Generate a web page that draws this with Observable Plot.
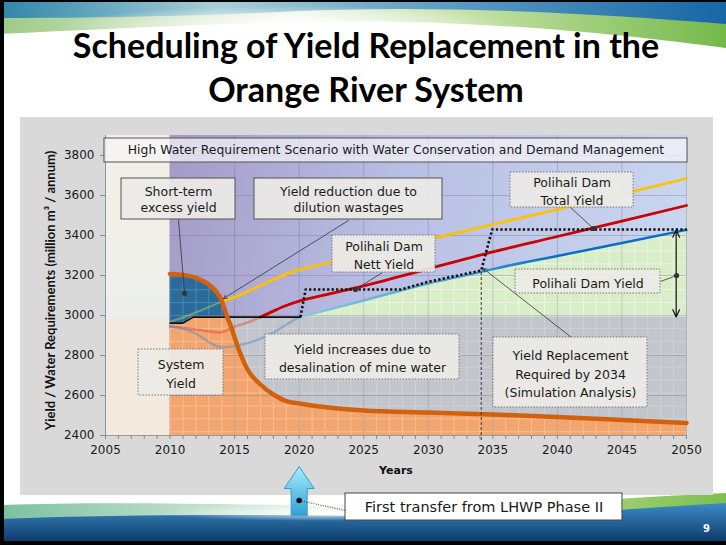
<!DOCTYPE html>
<html>
<head>
<meta charset="utf-8">
<script src="https://cdn.jsdelivr.net/npm/d3@7"></script>
<script src="https://cdn.jsdelivr.net/npm/@observablehq/plot@0.6"></script>
<style>
html,body{margin:0;padding:0;background:#fff;}
#slide{position:relative;width:726px;height:545px;overflow:hidden;background:#fff;}
#title{position:absolute;left:3px;top:23px;width:726px;text-align:center;font-family:Lato,"Open Sans",sans-serif;font-weight:700;font-size:34px;line-height:44px;color:#000;}
#panel{position:absolute;left:20px;top:117px;width:693px;height:378px;background:#d9d9d9;}
#chart{position:absolute;left:20px;top:117px;}
#chart svg{overflow:visible;}
#pg{position:absolute;left:703px;top:523px;color:#fff;font:bold 10px "DejaVu Sans",sans-serif;}
.bl{position:absolute;background:#000;}
</style>
</head>
<body>
<div id="slide">
  <svg id="topdeco" width="726" height="60" style="position:absolute;left:0;top:0">
    <defs>
      <linearGradient id="tg1" x1="0" x2="1" y1="0" y2="0">
        <stop offset="0" stop-color="#2f86aa"/><stop offset="0.3" stop-color="#a9cfd6"/>
        <stop offset="0.55" stop-color="#6aa5c8"/><stop offset="1" stop-color="#1766a6"/>
      </linearGradient>
      <linearGradient id="tg2" x1="0" x2="1" y1="0" y2="0">
        <stop offset="0" stop-color="#9dcb86"/><stop offset="0.4" stop-color="#f2f7ee"/>
        <stop offset="0.7" stop-color="#b9db97"/><stop offset="1" stop-color="#74b94a"/>
      </linearGradient>
      <radialGradient id="tw" cx="0.5" cy="0.5" r="0.5">
        <stop offset="0" stop-color="#fff" stop-opacity="0.95"/><stop offset="1" stop-color="#fff" stop-opacity="0"/>
      </radialGradient>
    </defs>
    <path d="M0,0H726V48C620,34 470,18 300,22C180,25 80,30 0,34Z" fill="url(#tg2)"/>
    <path d="M0,0H726V24C600,14 440,4 280,12C170,17 70,18 0,18Z" fill="url(#tg1)"/>
    <ellipse cx="290" cy="26" rx="230" ry="20" fill="url(#tw)"/>
  </svg>
  <div id="title">Scheduling of Yield Replacement in the<br>Orange River System</div>
  <svg id="botdeco" width="726" height="60" style="position:absolute;left:0;top:485px">
    <defs>
      <linearGradient id="bg1" x1="0" x2="1" y1="0" y2="0">
        <stop offset="0" stop-color="#7cc0a0"/><stop offset="0.45" stop-color="#eef6ee"/>
        <stop offset="0.8" stop-color="#a6d27e"/><stop offset="1" stop-color="#7cc04e"/>
      </linearGradient>
      <linearGradient id="bg2" x1="0" x2="0" y1="0" y2="1">
        <stop offset="0" stop-color="#3b8cc6"/><stop offset="1" stop-color="#0a3462"/>
      </linearGradient>
      <radialGradient id="bw" cx="0.5" cy="0.5" r="0.5">
        <stop offset="0" stop-color="#fff" stop-opacity="0.9"/><stop offset="1" stop-color="#fff" stop-opacity="0"/>
      </radialGradient>
    </defs>
    <path d="M0,60V20C120,16 260,20 400,22C520,22 630,12 726,8V60Z" fill="url(#bg1)"/>
    <path d="M0,60V34C150,28 300,30 430,32C550,32 650,22 726,18V60Z" fill="url(#bg2)"/>
    <ellipse cx="330" cy="28" rx="170" ry="8" fill="url(#bw)"/>
  </svg>
  <div id="panel"></div>
  <div id="chart"></div>
  <div id="pg">9</div>
  <div class="bl" style="left:0;top:0;width:4px;height:545px"></div>
  <div class="bl" style="left:0;top:0;width:726px;height:2px"></div>
  <div class="bl" style="left:0;top:541px;width:726px;height:4px"></div>
</div>
<script>
// ---------------- data ----------------
const xTickYears = [2005, 2010, 2015, 2020, 2025, 2030, 2035, 2040, 2045, 2050];
const yTickValues = [2400, 2600, 2800, 3000, 3200, 3400, 3600, 3800];

// System yield (thick orange line)
const systemYears = [2010, 2011, 2012, 2013, 2013.5, 2014, 2014.4, 2014.7, 2015, 2015.5, 2016, 2017, 2018, 2019, 2020, 2021, 2023, 2025, 2030, 2035, 2040, 2045, 2050];
const systemYield = [3208, 3203, 3188, 3155, 3125, 3075, 2995, 2950, 2890, 2800, 2730, 2655, 2605, 2572, 2560, 2550, 2535, 2525, 2515, 2505, 2493, 2478, 2462];

// Base line (solid black) and yield-replacement schedule (dotted black)
const baseYears = [2010, 2011, 2011.8, 2020.1];
const baseValues = [2962, 2962, 2992, 2992];
const scheduleYears = [2020.1, 2020.5, 2027.9, 2029.9, 2034.1, 2034.95, 2050];
const scheduleValues = [2992, 3130, 3130, 3167, 3225, 3430, 3430];

// Polihali Dam Nett Yield (red)
const redYears = [2010, 2012, 2013.9, 2014.8, 2016, 2017, 2018, 2019, 2020, 2021, 2022, 2025, 2030, 2035, 2040, 2045, 2050];
const redValues = [2945, 2930, 2915, 2940, 2965, 2992, 3022, 3050, 3072, 3088, 3103, 3148, 3233, 3318, 3395, 3472, 3550];

// Polihali Dam Total Yield (yellow)
const yellowYears = [2010, 2011, 2012, 2013, 2014.2, 2015, 2016, 2017, 2018, 2019, 2020, 2021, 2022, 2025, 2030, 2035, 2040, 2045, 2050];
const yellowValues = [2968, 2990, 3015, 3042, 3075, 3092, 3120, 3150, 3180, 3208, 3228, 3245, 3260, 3305, 3380, 3455, 3530, 3607, 3685];

// Polihali Dam Yield (blue, top of green area)
const blueYears = [2010, 2011, 2012, 2013, 2014, 2015, 2016, 2017, 2018, 2019, 2020, 2025, 2030, 2034, 2035, 2040, 2045, 2050];
const blueValues = [2945, 2935, 2910, 2867, 2842, 2848, 2862, 2883, 2915, 2955, 2992, 3075, 3160, 3217, 3232, 3298, 3362, 3428];

const historyEnd = 2010;        // shaded history 2005-2010
const crossYear = 2014.4;       // system yield meets base line
const polihaliStart = 2020;     // first transfer LHWP Phase II
const replacementYear = 2034.1; // yield replacement required
const baseLevel = 2992;

const chartTitle = "High Water Requirement Scenario with Water Conservation and Demand Management";
const yLabel = "Yield / Water Requirements (million m³ / annum)";
const xLabel = "Years";

// annotation boxes (data coordinates)
const solidNotes = [
  {text: "Short-term\nexcess yield", x1: 2006.24, x2: 2015.07, y1: 3480, y2: 3685},
  {text: "Yield reduction due to\ndilution wastages", x1: 2016.54, x2: 2031.10, y1: 3480, y2: 3685}
];
const dottedNotes = [
  {text: "Polihali Dam\nNett Yield", x1: 2022.58, x2: 2030.56, y1: 3215, y2: 3400},
  {text: "Polihali Dam\nTotal Yield", x1: 2036.37, x2: 2045.90, y1: 3540, y2: 3715},
  {text: "Polihali Dam Yield", x1: 2036.76, x2: 2047.99, y1: 3110, y2: 3230},
  {text: "System\nYield", x1: 2007.56, x2: 2014.14, y1: 2600, y2: 2830},
  {text: "Yield increases due to\ndesalination of mine water", x1: 2017.39, x2: 2032.42, y1: 2680, y2: 2905},
  {text: "Yield Replacement\nRequired by 2034\n(Simulation Analysis)", x1: 2035.05, x2: 2046.98, y1: 2540, y2: 2890}
];
const transferNote = {text: "First transfer from LHWP Phase II", x1: 2023.59, x2: 2045.04, y1: 1975, y2: 2110};
const dotLeaders = [
  {x1: 2010.65, y1: 3480, x2: 2011.12, y2: 3111},
  {x1: 2026.45, y1: 3215, x2: 2024.36, y2: 3130},
  {x1: 2041.02, y1: 3540, x2: 2042.80, y2: 3435},
  {x1: 2047.99, y1: 3170, x2: 2049.23, y2: 3200}
];
const arrowLeaders = [
  {x1: 2023.82, y1: 3475, x2: 2014.14, y2: 3085},
  {x1: 2041.10, y1: 2890, x2: 2034.25, y2: 3235}
];

// ---------------- derived tables ----------------
const rows = (xs, vs) => xs.map((x, i) => ({year: x, v: vs[i]}));
const sys = rows(systemYears, systemYield);
const base = rows(baseYears, baseValues);
const schedule = rows(scheduleYears, scheduleValues);
const red = rows(redYears, redValues);
const yellow = rows(yellowYears, yellowValues);
const blue = rows(blueYears, blueValues);
const orangeFill = base.filter(d => d.year < crossYear).concat(sys.filter(d => d.year >= crossYear));
const excess = sys.filter(d => d.year <= crossYear);
const curve = "monotone-x";
const txt = {fontFamily: "DejaVu Sans", fill: "#1a1a1a"};

const chart = Plot.plot({
  width: 693, height: 408,
  marginLeft: 85, marginRight: 27, marginTop: 18, marginBottom: 90,
  x: {domain: [2005, 2050]},
  y: {domain: [2400, 3900]},
  style: {background: "transparent", fontFamily: "DejaVu Sans", fontSize: "12px", overflow: "visible"},
  marks: [
    Plot.rect([0], {x1: 2005, x2: historyEnd, y1: 2400, y2: 3900, fill: "url(#bgBeige)"}),
    Plot.rect([0], {x1: historyEnd, x2: 2050, y1: 2400, y2: 3900, fill: "url(#bgPurple)"}),
    Plot.areaY(sys.filter(d => d.year >= crossYear), {x: "year", y1: "v", y2: baseLevel, fill: "url(#pGrey)", curve}),
    Plot.areaY(blue.filter(d => d.year >= polihaliStart), {x: "year", y1: baseLevel, y2: "v", fill: "url(#pGreen)", curve}),
    Plot.areaY(excess, {x: "year", y1: 2930, y2: "v", fill: "url(#pBlue)", curve}),
    Plot.areaY(orangeFill, {x: "year", y1: 2400, y2: "v", fill: "url(#pOrange)", curve}),
    // major grid
    Plot.ruleX(xTickYears.filter(d => d > historyEnd), {y1: 2400, y2: 3900, stroke: "#6c6c90", strokeOpacity: 0.35}),
    Plot.ruleY(yTickValues.filter(d => d > 2400), {x1: historyEnd, x2: 2050, stroke: "#6c6c90", strokeOpacity: 0.35}),
    // faint early parts of lines
    Plot.line(red.filter(d => d.year <= 2017), {x: "year", y: "v", stroke: "#e8402a", strokeOpacity: 0.45, strokeWidth: 2.5, curve}),
    Plot.line(blue.filter(d => d.year <= polihaliStart), {x: "year", y: "v", stroke: "#5b8fc0", strokeOpacity: 0.5, strokeWidth: 2.5, curve}),
    Plot.line(yellow.filter(d => d.year <= 2014.2), {x: "year", y: "v", stroke: "#b8d86a", strokeOpacity: 0.45, strokeWidth: 2, curve}),
    // main lines
    Plot.line(blue.filter(d => d.year >= polihaliStart), {x: "year", y: "v", stroke: "url(#gBlue)", strokeWidth: 2.5, curve}),
    Plot.line(red.filter(d => d.year >= 2017), {x: "year", y: "v", stroke: "#cc0000", strokeWidth: 2.8, curve}),
    Plot.line(yellow.filter(d => d.year >= 2014.2), {x: "year", y: "v", stroke: "#ffc000", strokeWidth: 2.8, curve}),
    Plot.line(base, {x: "year", y: "v", stroke: "#111", strokeWidth: 1.6}),
    Plot.line(schedule, {x: "year", y: "v", stroke: "#111", strokeWidth: 2.6, strokeDasharray: "2.3,2.2", strokeLinecap: "butt"}),
    Plot.line(sys, {x: "year", y: "v", stroke: "#d2600c", strokeWidth: 4.5, curve}),
    // replacement year marker
    Plot.ruleX([replacementYear], {y1: 2375, y2: 3225, stroke: "#333", strokeWidth: 1, strokeDasharray: "3,2"}),
    // double arrow for Polihali Dam Yield
    Plot.arrow([{y1: 3200, y2: 3428}, {y1: 3200, y2: baseLevel}], {x1: 2049.2, x2: 2049.2, y1: "y1", y2: "y2", stroke: "#111", strokeWidth: 1.2, headLength: 10, headAngle: 50}),
    // axes
    Plot.ruleX([2005], {y1: 2400, y2: 3900, stroke: "#8a93ad"}),
    Plot.ruleY([2400], {x1: 2005, x2: 2050, stroke: "#9a9a9a"}),
    Plot.axisX({ticks: d3.range(2005, 2051), tickSize: 4, tickPadding: 6, tickFormat: d => d % 5 ? "" : String(d), label: null, stroke: "#888", fill: "#1a1a1a", fontSize: 12}),
    Plot.axisY({ticks: yTickValues, tickSize: 5, tickPadding: 6, tickFormat: d => String(d), label: null, stroke: "#888", fill: "#1a1a1a", fontSize: 12}),
    Plot.text([yLabel], {frameAnchor: "left", textAnchor: "middle", dx: -55, dy: 5, rotate: -90, fontWeight: "bold", fontSize: 13, fontFamily: "Lato", fill: "#111"}),
    Plot.text([xLabel], {frameAnchor: "bottom", dy: 38, fontWeight: "bold", fontSize: 11, fontFamily: "DejaVu Sans", fill: "#111"}),
    // scenario title box
    Plot.rect([0], {x1: 2004.92, x2: 2050.08, y1: 3765, y2: 3885, fill: "#f6f5f8", fillOpacity: 0.72, stroke: "#555", strokeWidth: 1}),
    Plot.text([chartTitle], {x: 2027.5, y: 3825, fontSize: 12.4, ...txt}),
    // leaders
    Plot.link(dotLeaders, {x1: "x1", y1: "y1", x2: "x2", y2: "y2", stroke: "#333", strokeWidth: 0.8}),
    Plot.arrow(arrowLeaders, {x1: "x1", y1: "y1", x2: "x2", y2: "y2", stroke: "#333", strokeWidth: 0.8, headLength: 7}),
    Plot.dot(dotLeaders, {x: "x2", y: "y2", r: 2.6, fill: "#333", stroke: "none"}),
    // annotation boxes
    Plot.rect(solidNotes, {x1: "x1", x2: "x2", y1: "y1", y2: "y2", fill: "#ecebe6", fillOpacity: 0.93, stroke: "#555", strokeWidth: 1}),
    Plot.text(solidNotes, {x: d => (d.x1 + d.x2) / 2, y: d => (d.y1 + d.y2) / 2, text: "text", fontSize: 12.5, lineHeight: 1.3, ...txt}),
    Plot.rect(dottedNotes, {x1: "x1", x2: "x2", y1: "y1", y2: "y2", fill: "#ecebe6", fillOpacity: 0.93, stroke: "#777", strokeWidth: 1, strokeDasharray: "1.5,1.5"}),
    Plot.text(dottedNotes, {x: d => (d.x1 + d.x2) / 2, y: d => (d.y1 + d.y2) / 2, text: "text", fontSize: 12.5, lineHeight: 1.5, ...txt}),
    // first transfer arrow & note (below axis)
    Plot.vector([polihaliStart], {x: d => d, y: 2000, length: 49, anchor: "start", fill: "url(#gArrow)", stroke: "#3a9cc8", strokeWidth: 1,
      shape: {draw(ctx, l) { ctx.moveTo(-8, 0); ctx.lineTo(-8, -27); ctx.lineTo(-15, -27); ctx.lineTo(0, -l); ctx.lineTo(15, -27); ctx.lineTo(8, -27); ctx.lineTo(8, 0); ctx.closePath(); }}}),
    Plot.link([0], {x1: polihaliStart, y1: 2075, x2: transferNote.x1, y2: 2025, stroke: "#333", strokeWidth: 0.8, strokeDasharray: "1.2,1.2"}),
    Plot.dot([0], {x: polihaliStart, y: 2075, r: 2.8, fill: "#111", stroke: "none"}),
    Plot.rect([transferNote], {x1: "x1", x2: "x2", y1: "y1", y2: "y2", fill: "#fff", stroke: "#444", strokeWidth: 1}),
    Plot.text([transferNote], {x: d => (d.x1 + d.x2) / 2, y: d => (d.y1 + d.y2) / 2, text: "text", fontSize: 14.5, ...txt})
  ]
});

// gradients & patterns aligned to the scales
const xs = chart.scale("x"), ys = chart.scale("y");
const X = v => xs.apply(v), Y = v => ys.apply(v);
const defs = d3.select(chart).insert("defs", ":first-child");
function lin(id, x1, y1, x2, y2, stops) {
  const g = defs.append("linearGradient").attr("id", id).attr("gradientUnits", "userSpaceOnUse")
    .attr("x1", x1).attr("y1", y1).attr("x2", x2).attr("y2", y2);
  stops.forEach(([o, c]) => g.append("stop").attr("offset", o).attr("stop-color", c));
}
lin("bgPurple", X(2010), Y(3900), X(2050), Y(3300), [[0, "#a39ac6"], [0.45, "#b9bfe4"], [1, "#c9d7f0"]]);
lin("bgBeige", 0, Y(3900), 0, Y(2400), [[0, "#f2efe6"], [0.45, "#eff0ea"], [0.6, "#eceeeb"], [0.63, "#f3e9de"], [1, "#f3e9dd"]]);
lin("gBlue", X(2020), 0, X(2040), 0, [[0, "#8cc9da"], [0.5, "#5aa6d6"], [1, "#0a6fc2"]]);
const ag = defs.append("linearGradient").attr("id", "gArrow").attr("x1", 0).attr("x2", 0).attr("y1", 0).attr("y2", 1);
[[0, "#a6ecfb"], [1, "#2ea3d6"]].forEach(([o, c]) => ag.append("stop").attr("offset", o).attr("stop-color", c));
const cell = X(2011) - X(2010);
function pattern(id, bg, line) {
  const p = defs.append("pattern").attr("id", id).attr("patternUnits", "userSpaceOnUse")
    .attr("x", X(2010)).attr("y", Y(3000)).attr("width", cell).attr("height", cell);
  p.append("rect").attr("width", cell).attr("height", cell).attr("fill", bg);
  p.append("path").attr("d", `M0,0.5H${cell}M0.5,0V${cell}`).attr("stroke", line).attr("stroke-width", 1).attr("fill", "none");
}
pattern("pOrange", "#f2a56f", "#f8bf93");
pattern("pBlue", "#2a6b99", "#4a88b4");
pattern("pGreen", "#d9edc9", "#ebf6e1");
pattern("pGrey", "#c3c5cc", "#cfd1d7");

document.getElementById("chart").appendChild(chart);
</script>
</body>
</html>
